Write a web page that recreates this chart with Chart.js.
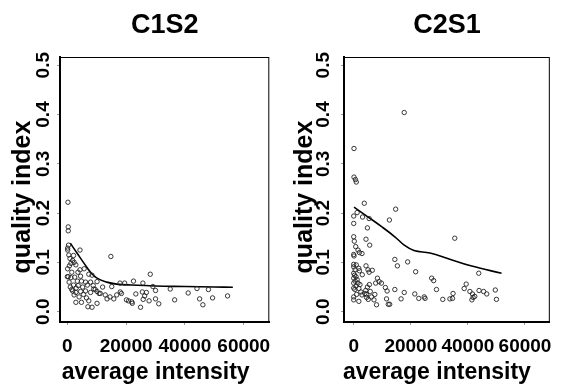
<!DOCTYPE html>
<html>
<head>
<meta charset="utf-8">
<script src="https://cdn.jsdelivr.net/npm/chart.js@4.4.1/dist/chart.umd.min.js"></script>
<style>
  html, body { margin: 0; padding: 0; background: #fff; }
  #wrap { position: relative; width: 562px; height: 385px; }
  .panel { position: absolute; top: 0; width: 281px; height: 385px; }
</style>
</head>
<body>
<div id="wrap">
  <div class="panel" style="left:0"><canvas id="c1s2" width="281" height="385"></canvas></div>
  <div class="panel" style="left:281px"><canvas id="c2s1" width="281" height="385"></canvas></div>
</div>
<script>
// tick labels
const xTickValues = [0, 20000, 40000, 60000];
const yTickValues = [0, 0.1, 0.2, 0.3, 0.4, 0.5];

// C1S2 scatter (average intensity, quality index)
const c1s2X = [200, 300, 300, 400, 100, 100, 500, 2100, 4300, 14800, 1200, 2300, 700, 2900, 100, 4300, 5700,
  0, 300, 1200, 4500, 7300, 8400, 3400, 4800, 6200, 7900, 10100, 2100, 3700, 6800, 8800, 15100, 17900, 19500,
  1800, 2900, 4500, 6200, 7900, 10100, 11200, 12900, 14500, 16800, 18400, 20100, 2300, 4000, 2900, 4800, 7300,
  7000, 10100, 8400, 28200, 22500, 25700, 29100, 35000, 44100, 48000, 25500, 26900, 30000, 41100, 23300, 26300,
  20800, 22100, 25800, 27800, 30000, 31100, 36500, 45000, 46100, 49400, 54500, 24900, 1500, 600, 1000, 1500,
  3000, 5200, 5500, 6500, 9000, 9500, 10800, 13500, 15800, 18000, 21900, 12000, 3600, 2500, 1800, 900];
const c1s2Y = [0.222, 0.172, 0.164, 0.135, 0.129, 0.125, 0.115, 0.114, 0.125, 0.112, 0.098, 0.100, 0.093, 0.095, 0.087, 0.085, 0.087,
  0.071, 0.071, 0.069, 0.072, 0.076, 0.074, 0.062, 0.062, 0.060, 0.060, 0.061, 0.054, 0.053, 0.054, 0.053, 0.051, 0.058, 0.058,
  0.042, 0.039, 0.041, 0.042, 0.039, 0.041, 0.037, 0.034, 0.030, 0.034, 0.037, 0.024, 0.034, 0.030, 0.019, 0.019, 0.022,
  0.010, 0.017, 0.009, 0.076, 0.062, 0.058, 0.051, 0.046, 0.047, 0.045, 0.040, 0.039, 0.043, 0.038, 0.036, 0.032,
  0.022, 0.017, 0.025, 0.022, 0.026, 0.016, 0.024, 0.026, 0.014, 0.028, 0.032, 0.009, 0.080, 0.060, 0.050, 0.045,
  0.048, 0.050, 0.035, 0.028, 0.046, 0.045, 0.037, 0.026, 0.026, 0.040, 0.020, 0.050, 0.080, 0.070, 0.104, 0.108];
// C1S2 smooth curve
const c1s2LineX = [1000, 3400, 5700, 7900, 10100, 13400, 16800, 21800, 30000, 40000, 50000, 56300];
const c1s2LineY = [0.139, 0.118, 0.098, 0.080, 0.068, 0.060, 0.056, 0.054, 0.052, 0.051, 0.050, 0.0495];

// C2S1 scatter
const c2s1X = [17700, 100, 100, 600, 900, 3700, 14700, 0, 1200, 3100, 5400, 12500, 0, 4800, 0, 200, 4300, 5600, 35400,
  700, 1500, 2000, 2900, 0, 100, 14400, 18900, 15300, 0, 0, 900, 1800, 4300, 5000, 6500, 5400, 21700, 43800,
  8300, 8900, 9700, 7700, 11100, 11700, 14400, 17700, 27300, 28000, 29000, 21400, 22800, 24700, 25000, 31200,
  33700, 34600, 34800, 39400, 38700, 40700, 41600, 41800, 41400, 42400, 43900, 45500, 46600, 49600, 50000, 16600,
  7100, 8000, 11500, 12100, 12600, 4500, 5100, 0, 1800,
  0, 300, 800, 0, 1200, 500, 0, 1500, 2200, 800, 0, 1800, 400, 2500, 4800, 4200, 5800, 3900, 4500, 1000, 2900,
  0, 6200, 7400, 5500, 2000, 3000, 500];
const c2s1Y = [0.404, 0.331, 0.273, 0.268, 0.263, 0.220, 0.208, 0.194, 0.201, 0.192, 0.189, 0.186, 0.179, 0.170, 0.152, 0.143, 0.147, 0.135, 0.149,
  0.132, 0.125, 0.120, 0.118, 0.116, 0.113, 0.106, 0.101, 0.093, 0.096, 0.091, 0.095, 0.088, 0.093, 0.085, 0.084, 0.080, 0.081, 0.078,
  0.068, 0.061, 0.058, 0.058, 0.049, 0.042, 0.045, 0.039, 0.068, 0.063, 0.045, 0.036, 0.027, 0.030, 0.027, 0.025,
  0.026, 0.027, 0.037, 0.056, 0.047, 0.041, 0.036, 0.029, 0.024, 0.031, 0.043, 0.041, 0.036, 0.044, 0.025, 0.026,
  0.024, 0.014, 0.026, 0.015, 0.015, 0.029, 0.025, 0.024, 0.021,
  0.078, 0.074, 0.071, 0.068, 0.065, 0.062, 0.058, 0.058, 0.055, 0.052, 0.048, 0.047, 0.045, 0.040, 0.050, 0.043, 0.041, 0.037, 0.035, 0.035, 0.034,
  0.030, 0.030, 0.035, 0.055, 0.083, 0.075, 0.085];
// C2S1 smooth curve
const c2s1LineX = [100, 4800, 9900, 14400, 17700, 21100, 26700, 33400, 41000, 51800];
const c2s1LineY = [0.212, 0.193, 0.172, 0.152, 0.135, 0.124, 0.119, 0.107, 0.093, 0.078];

const FONT = '"Liberation Sans", Arial, Helvetica, sans-serif';

const rFrame = {
    id: 'rFrame',
    afterDraw(chart, args, opts) {
        const ctx = chart.ctx;
        const area = chart.chartArea;
        const yScale = chart.scales.y;
        const midX = (area.left + area.right) / 2;
        ctx.save();
        // thin top/right box sides
        ctx.strokeStyle = '#000';
        ctx.lineWidth = 1;
        ctx.strokeRect(area.left + 0.5, area.top + 0.5, area.right - area.left - 1, area.bottom - area.top - 1);

        // rotated y tick labels
        ctx.fillStyle = '#000';
        ctx.font = 'bold 19px ' + FONT;
        ctx.textAlign = 'center';
        ctx.textBaseline = 'middle';
        yTickValues.forEach(v => {
            ctx.save();
            ctx.translate(opts.yLabelX, yScale.getPixelForValue(v));
            ctx.rotate(-Math.PI / 2);
            ctx.fillText(v.toFixed(1), 0, 0);
            ctx.restore();
        });

        // y axis title
        ctx.save();
        ctx.font = 'bold 25px ' + FONT;
        ctx.translate(opts.yTitleX, 197);
        ctx.rotate(-Math.PI / 2);
        ctx.fillText('quality index', 0, 0);
        ctx.restore();

        // x axis title and panel title
        ctx.textBaseline = 'alphabetic';
        ctx.font = 'bold 23px ' + FONT;
        ctx.fillText('average intensity', midX + opts.xTitleShift, 379);
        ctx.font = 'bold 27px ' + FONT;
        ctx.fillText(opts.title, midX, 33);
        ctx.restore();
    }
};

function makePanel(canvasId, xs, ys, lineXs, lineYs, frame) {
    const ctx = document.getElementById(canvasId).getContext('2d');
    return new Chart(ctx, {
        type: 'scatter',
        data: {
            datasets: [{
                data: xs.map((x, i) => ({ x: x, y: ys[i] })),
                pointStyle: 'circle',
                pointRadius: 2.2,
                borderColor: '#222',
                borderWidth: 0.9,
                backgroundColor: 'rgba(0,0,0,0)'
            }, {
                type: 'line',
                data: lineXs.map((x, i) => ({ x: x, y: lineYs[i] })),
                borderColor: '#000',
                borderWidth: 1.6,
                pointRadius: 0,
                fill: false,
                tension: 0.4
            }]
        },
        options: {
            responsive: false,
            animation: false,
            layout: { padding: { left: 0, right: frame.padRight, top: 57, bottom: 0 } },
            plugins: {
                legend: { display: false },
                tooltip: { enabled: false },
                rFrame: frame
            },
            scales: {
                x: {
                    type: 'linear',
                    min: frame.xMin,
                    max: 68700,
                    afterBuildTicks: s => { s.ticks = xTickValues.map(v => ({ value: v })); },
                    afterFit: s => { s.height = 63; },
                    border: { display: true, width: 2, color: '#000' },
                    grid: { drawOnChartArea: false, drawTicks: true, tickLength: 3, color: '#999' },
                    ticks: {
                        color: '#000',
                        padding: 10,
                        maxRotation: 0,
                        font: { family: FONT, size: 19, weight: 'bold' },
                        callback: v => String(v)
                    }
                },
                y: {
                    type: 'linear',
                    min: -0.0209,
                    max: 0.5166,
                    afterBuildTicks: s => { s.ticks = yTickValues.map(v => ({ value: v })); },
                    afterFit: s => { s.width = frame.yWidth; },
                    border: { display: true, width: 2, color: '#000' },
                    grid: { drawOnChartArea: false, drawTicks: true, tickLength: 3, color: '#999' },
                    ticks: { display: false }
                }
            }
        },
        plugins: [rFrame]
    });
}

makePanel('c1s2', c1s2X, c1s2Y, c1s2LineX, c1s2LineY,
    { title: 'C1S2', padRight: 7, yWidth: 60, xMin: -2500, yLabelX: 43.5, yTitleX: 23.5, xTitleShift: -9 });
makePanel('c2s1', c2s1X, c2s1Y, c2s1LineX, c2s1LineY,
    { title: 'C2S1', padRight: 4, yWidth: 63, xMin: -3400, yLabelX: 42.5, yTitleX: 24.5, xTitleShift: -10 });
</script>
</body>
</html>
